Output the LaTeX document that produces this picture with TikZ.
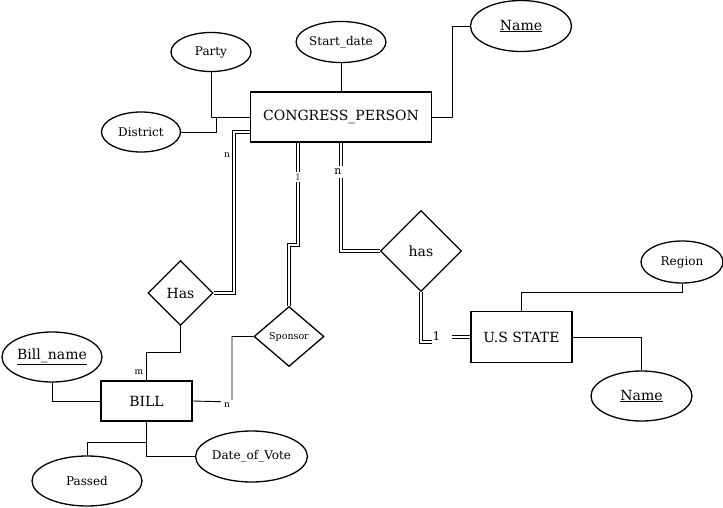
\documentclass[tikz,border=0pt]{standalone}
\usepackage{fontspec}
\setmainfont{DejaVu Serif}
\usetikzlibrary{shapes.geometric}
\definecolor{cardblue}{RGB}{30,60,150}
\begin{document}
\begin{tikzpicture}[x=1pt,y=-1pt,
  entity/.style={draw, rectangle, line width=1.6pt, inner sep=0pt, font=\fontsize{14}{16}\selectfont},
  attr/.style={draw, ellipse, line width=1.3pt, inner sep=0pt, font=\fontsize{12}{14}\selectfont},
  bigattr/.style={attr, font=\fontsize{14}{16}\selectfont},
  rel/.style={draw, diamond, line width=1.3pt, inner sep=0pt, font=\fontsize{14}{16}\selectfont},
  conn/.style={line width=0.9pt},
  dbl/.style={double, double distance=2pt, line width=1pt},
  card/.style={font=\fontsize{9}{10}\selectfont, inner sep=1pt}]
\useasboundingbox (0,0) rectangle (723,508);

% entities
\node[entity, minimum width=181pt, minimum height=50pt] (cp) at (341,117) {CONGRESS\_PERSON};
\node[entity, minimum width=91pt, minimum height=40pt] (bill) at (146.5,401) {BILL};
\node[entity, minimum width=101pt, minimum height=51pt] (uss) at (521.5,337) {U.S STATE};

% attributes
\node[attr, minimum width=80pt, minimum height=39pt] (party) at (211,52) {Party};
\node[attr, minimum width=81pt, minimum height=41pt] (sd) at (341,42) {Start\_date};
\node[attr, minimum width=79pt, minimum height=40pt] (district) at (141,132) {District};
\node[bigattr, minimum width=101pt, minimum height=51pt] (name1) at (521,26) {\underline{Name}};
\node[attr, minimum width=82pt, minimum height=42pt] (region) at (682,262) {Region};
\node[bigattr, minimum width=101pt, minimum height=50pt] (name2) at (641.5,396) {\underline{Name}};
\node[bigattr, minimum width=100pt, minimum height=50pt] (bn) at (52,357) {\underline{Bill\_name}};
\node[attr, minimum width=110pt, minimum height=50pt] (passed) at (87,481) {Passed};
\node[attr, minimum width=111pt, minimum height=51pt] (dov) at (251.5,456.5) {Date\_of\_Vote};

% relationships
\node[rel, minimum width=65pt, minimum height=65pt] (has1) at (180.5,293) {Has};
\node[rel, minimum width=70pt, minimum height=60pt, font=\fontsize{9.5}{11}\selectfont] (spon) at (289,336.5) {Sponsor};
\node[rel, minimum width=81pt, minimum height=81pt] (has2) at (421,251) {has};

% attribute connectors
\draw[conn] (party.south) |- (cp.west);
\draw[conn] (district.east) -| (216,117);
\draw[conn] (sd.south) -- (sd.south |- cp.north);
\draw[conn] (name1.west) -- (452,26) |- (cp.east);
\draw[conn] (bn.south) |- (bill.west);
\draw[conn] (passed.north) |- ([yshift=-21pt]bill.south);
\draw[conn] (bill.south) |- (dov.west);
\draw[conn] (region.south) -- ++(0,9) -| (uss.north);
\draw[conn] (uss.east) -| (name2.north);

% relationship connectors
\draw[dbl] ([yshift=-15pt]cp.west) -- (234,132) -- (234,293) -- (has1.east);
\node[card] (c1) at (227,155) {n};

\draw[dbl] ([xshift=-43pt]cp.south) -- (298,245) -- (289,245) -- (spon.north);
\node[card, fill=white, text=cardblue, inner ysep=2pt] (c2) at (298,177) {1};

\draw[dbl] (cp.south) -- (341,251) -- (has2.west);
\node[card, fill=white, font=\fontsize{11}{12}\selectfont, inner ysep=3pt] (c3) at (338,172) {n};

\coordinate (k1) at (432,342);
\coordinate (k2) at (452,337);
\draw[dbl] (has2.south) |- (k1);
\draw[dbl] (k2) -- (uss.west);
\node[card, font=\fontsize{12}{13}\selectfont] (c4) at (436.5,336) {1};

\draw[conn] (has1.south) -- ++(0,26) -| (bill.north);
\node[card] (c5) at (139,372) {m};

\draw[conn] (bill.east) -- (232,402) |- (spon.west);
\node[card, fill=white, inner xsep=3pt, inner ysep=3pt] (c6) at (227,405) {n};
\end{tikzpicture}
\end{document}
